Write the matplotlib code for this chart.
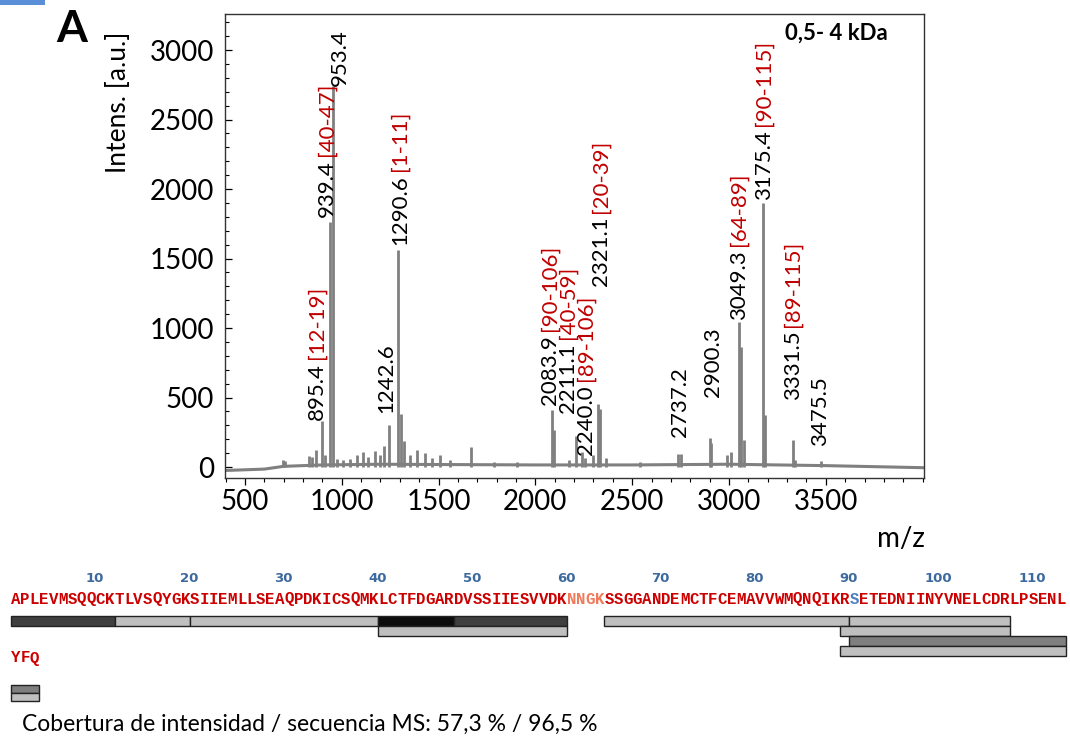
import numpy as np
import matplotlib
matplotlib.use("Agg")
import matplotlib.pyplot as plt
from matplotlib.patches import Rectangle
from matplotlib.ticker import MultipleLocator, FixedLocator

plt.rcParams['font.family'] = ['Lato', 'DejaVu Sans']

W, H = 1070, 742

# ---------------- spectrum data ----------------
peak_mz = [696, 707, 830, 846, 867, 895.4, 913, 939.4, 953.4, 975, 1006, 1042,
           1078, 1109, 1135, 1171, 1197, 1218, 1242.6, 1290.6, 1306, 1321,
           1352, 1388, 1430, 1466, 1507, 1559, 1667, 1786, 1905,
           2083.9, 2094, 2173, 2211.1, 2240.0, 2256, 2297, 2321.1, 2334, 2365,
           2540, 2737.2, 2750, 2900.3, 2907, 2990, 3010, 3049.3, 3062, 3077,
           3175.4, 3186, 3331.5, 3341, 3475.5]
peak_int = [50, 40, 80, 70, 120, 330, 90, 1760, 2740, 60, 50, 60,
            85, 110, 70, 115, 85, 150, 300, 1560, 380, 190,
            85, 120, 100, 65, 90, 50, 145, 35, 35,
            410, 265, 50, 223, 108, 65, 85, 453, 417, 65,
            35, 94, 94, 209, 170, 85, 110, 1043, 863, 195,
            1900, 375, 195, 50, 45]

baseline_mz = [397, 600, 700, 900, 1200, 1500, 2000, 2500, 3000, 3500, 4007]
baseline_int = [-25, -15, 5, 15, 20, 18, 15, 15, 20, 10, -5]

x_ticks = [500, 1000, 1500, 2000, 2500, 3000, 3500]

# annotated peaks
label_mz = [895.4, 939.4, 953.4, 1242.6, 1290.6, 2083.9, 2211.1, 2240.0,
            2321.1, 2737.2, 2900.3, 3049.3, 3175.4, 3331.5, 3475.5]
label_pep = ["[12-19]", "[40-47]", "", "", "[1-11]", "[90-106]", "[40-59]",
             "[89-106]", "[20-39]", "", "", "[64-89]", "[90-115]", "[89-115]", ""]
# text anchor (horizontal m/z of the rotated text, intensity of its base)
label_x = [872, 923, 991, 1228, 1301, 2075, 2168, 2261, 2339, 2747, 2917,
           3051, 3181, 3330, 3470]
label_y = [340, 1800, 2740, 390, 1600, 445, 390, 90, 1300, 215, 505, 1060,
           1920, 480, 150]

# ---------------- sequence coverage data ----------------
sequence = ("APLEVMSQQCKTLVSQYGKSIIEMLLSEAQPDKICSQMKLCTFDGARDVSSIIESVVDKNNGKSSGG"
            "ANDEMCTFCEMAVVWMQNQIKRSETEDNIINYVNELCDRLPSENLYFQ")
uncovered = [60, 61, 62, 63]
marked = [90]
cov_start = [1, 12, 20, 40, 48, 40, 64, 90, 89, 90, 89]
cov_end = [11, 19, 39, 47, 59, 59, 89, 106, 106, 115, 115]
cov_row = [0, 0, 0, 0, 0, 1, 0, 0, 1, 2, 3]
cov_shade = ['#3f3f3f', '#bfbfbf', '#bfbfbf', '#0d0d0d', '#3f3f3f', '#bfbfbf',
             '#bfbfbf', '#bfbfbf', '#bfbfbf', '#7f7f7f', '#bfbfbf']
coverage_text = "Cobertura de intensidad / secuencia MS: 57,3 % / 96,5 %"

# ---------------- figure ----------------
fig = plt.figure(figsize=(W / 100, H / 100), dpi=100)
fig.patch.set_facecolor('white')

ax = fig.add_axes([225 / W, 1 - 478 / H, 699 / W, 464 / H])
ax.set_xlim(397, 4007)
ax.set_ylim(-79, 3259)

grey = '#808080'
ax.plot(baseline_mz, baseline_int, color=grey, lw=2.2, solid_capstyle='butt')
ax.vlines(peak_mz, 0, peak_int, color=grey, lw=2.0)

ax.xaxis.set_major_locator(FixedLocator(x_ticks))
ax.xaxis.set_minor_locator(MultipleLocator(100))
ax.yaxis.set_major_locator(MultipleLocator(500))
ax.yaxis.set_minor_locator(MultipleLocator(100))
ax.tick_params(axis='x', which='major', direction='out', length=5, width=0.9,
               labelsize=20, pad=3)
ax.tick_params(axis='x', which='minor', direction='out', length=3, width=0.8)
ax.tick_params(axis='y', which='major', direction='in', length=5, width=0.9,
               labelsize=20, pad=8)
ax.tick_params(axis='y', which='minor', direction='in', length=3, width=0.8)
for s in ax.spines.values():
    s.set_color('#333333')
    s.set_linewidth(1.0)

fs_lab = 16
num_texts = []
for mz, tx, ty in zip(label_mz, label_x, label_y):
    t = ax.text(tx, ty, f"{mz:.1f}", rotation=90, ha='center', va='bottom',
                fontsize=fs_lab, color='black')
    num_texts.append(t)

fig.canvas.draw()
renderer = fig.canvas.get_renderer()
inv = ax.transData.inverted()
for t, pep, tx in zip(num_texts, label_pep, label_x):
    if not pep:
        continue
    bb = t.get_window_extent(renderer)
    _, ytop = inv.transform((0, bb.y1 + 4))
    ax.text(tx, ytop, pep, rotation=90, ha='center', va='bottom',
            fontsize=fs_lab, color='#c00000')

# axis titles and panel text
fig.text(118 / W, 1 - 102 / H, "Intens. [a.u.]", rotation=90, ha='center',
         va='center', fontsize=19)
fig.text(901 / W, 1 - 539 / H, "m/z", ha='center', va='center', fontsize=20)
fig.text(72 / W, 1 - 29 / H, "A", ha='center', va='center', fontsize=32,
         fontweight='bold')
fig.text(836 / W, 1 - 33 / H, "0,5- 4 kDa", ha='center', va='center',
         fontsize=16, fontweight='bold')

# ---------------- sequence coverage panel ----------------
sx = fig.add_axes([0, 0, 1, 1], zorder=-1)
sx.set_xlim(0, W)
sx.set_ylim(H, 0)
sx.axis('off')
sx.add_patch(Rectangle((0, 0), 45, 5, color='#5a8fd8', lw=0))

line_len = 112
x0, cw = 11.0, 9.42
text_y = [599, 658]
row_tops = [[616, 626, 636, 646], [669, 677, 685, 693]]
row_h = [10, 8]


def cell_left(pos):
    line = (pos - 1) // line_len
    idx = (pos - 1) % line_len
    return line, x0 + idx * cw


for i, aa in enumerate(sequence, start=1):
    line, left = cell_left(i)
    if i in uncovered:
        col = '#f07a5a'
    elif i in marked:
        col = '#4a7fc0'
    else:
        col = '#cc0000'
    sx.text(left + cw / 2, text_y[line], aa, ha='center', va='center',
            fontsize=11.3, fontweight='bold', family='Liberation Mono',
            color=col)
    if i % 10 == 0 and line == 0:
        sx.text(left + cw - 1, 579, str(i), ha='right', va='center',
                fontsize=9.5, fontweight='bold', family='DejaVu Sans',
                color='#3d6a9e')

for a, b, r, c in zip(cov_start, cov_end, cov_row, cov_shade):
    pos = a
    while pos <= b:
        line, left = cell_left(pos)
        end_line = min(b, (line + 1) * line_len)
        right = left + (end_line - pos + 1) * cw
        sx.add_patch(Rectangle((left, row_tops[line][r]), right - left,
                               row_h[line], facecolor=c, edgecolor='#222222',
                               lw=1.0))
        pos = end_line + 1

sx.text(22, 724, coverage_text, ha='left', va='center', fontsize=16.5)

fig.savefig("out.png", dpi=100, facecolor='white')
